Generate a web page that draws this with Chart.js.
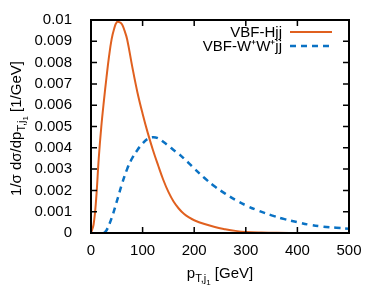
<!DOCTYPE html>
<html><head><meta charset="utf-8">
<script src="https://cdn.jsdelivr.net/npm/chart.js@4/dist/chart.umd.min.js"></script>
<style>html,body{margin:0;padding:0;background:#fff}#wrap{width:374px;height:299px}</style>
</head><body><div id="wrap"><canvas id="c" width="374" height="299"></canvas></div>
<script>
const hX = [0,5,10,15,20,25,30,35,40,45,50,55,60,65,70,80,90,100,110,120,130,140,150,160,170,180,190,200,220,240,260,280,300,330,360,410];
const hY = [0,0.0004,0.0016,0.0035,0.0050,0.0062,0.0073,0.0083,0.0091,0.0096,0.0099,0.0099,0.0098,0.0095,0.0091,0.0078,0.0066,0.0056,0.0047,0.0039,0.00318,0.0025,0.00193,0.00148,0.00115,0.0009,0.00073,0.0006,0.00042,0.00028,0.00018,0.0001,0.00005,0.00002,0.000006,0];
const wX = [25,30,40,50,60,70,80,90,100,110,120,130,140,150,160,170,180,190,200,220,240,260,280,300,325,350,375,400,425,450,475,500];
const wY = [0,0.00012,0.0007,0.00148,0.0023,0.0030,0.00352,0.0039,0.0042,0.00442,0.0045,0.00445,0.00428,0.0041,0.0039,0.00372,0.0035,0.00327,0.00303,0.00258,0.00218,0.00185,0.00155,0.0013,0.00104,0.00083,0.00065,0.00051,0.00038,0.0003,0.00025,0.0002];
const xTicks = [0,100,200,300,400,500];
const yTicks = [0,0.001,0.002,0.003,0.004,0.005,0.006,0.007,0.008,0.009,0.01];
const seriesNames = ['VBF-Hjj','VBF-W\u207AW\u207Ajj'];
const FONT = '"Liberation Sans", Arial, Helvetica, sans-serif';
const FS = 15;

function pts(xs, ys){ return xs.map((x,i)=>({x:x,y:ys[i]})); }

const frame = {
  id:'frame',
  afterDraw(chart){
    const ctx = chart.ctx, a = chart.chartArea;
    const xs = chart.scales.x, ys = chart.scales.y;
    ctx.save();
    ctx.strokeStyle = '#000';
    ctx.lineWidth = 2;
    ctx.strokeRect(a.left, a.top, a.right-a.left, a.bottom-a.top);
    ctx.lineWidth = 1.5;
    ctx.beginPath();
    xTicks.forEach(v=>{ const p = xs.getPixelForValue(v);
      ctx.moveTo(p,a.bottom); ctx.lineTo(p,a.bottom-6);
      ctx.moveTo(p,a.top); ctx.lineTo(p,a.top+6); });
    yTicks.forEach(v=>{ const p = ys.getPixelForValue(v);
      ctx.moveTo(a.left,p); ctx.lineTo(a.left+6,p);
      ctx.moveTo(a.right,p); ctx.lineTo(a.right-6,p); });
    ctx.stroke();
    ctx.fillStyle = '#000';
    ctx.textBaseline = 'alphabetic';
    const big = FS+'px '+FONT, sm = Math.round(FS*0.72)+'px '+FONT, sm2 = Math.round(FS*0.55)+'px '+FONT;
    function drawParts(parts, x, y){
      let w = 0;
      parts.forEach(p=>{ ctx.font = p.f; w += ctx.measureText(p.t).width; });
      let cx = x - w/2;
      ctx.textAlign = 'left';
      parts.forEach(p=>{ ctx.font = p.f; ctx.fillText(p.t, cx, y + (p.dy||0)); cx += ctx.measureText(p.t).width; });
    }
    drawParts([{t:'p',f:big},{t:'T,j',f:sm,dy:4},{t:'1',f:sm2,dy:7},{t:' [GeV]',f:big}], (a.left+a.right)/2, 278);
    ctx.save();
    ctx.translate(21, (a.top+a.bottom)/2+2);
    ctx.rotate(-Math.PI/2);
    drawParts([{t:'1/\u03C3 d\u03C3/dp',f:big},{t:'T,j',f:sm,dy:4},{t:'1',f:sm2,dy:7},{t:' [1/GeV]',f:big}], 0, 0);
    ctx.restore();
    ctx.font = big;
    ctx.textAlign = 'right';
    ctx.textBaseline = 'middle';
    chart.data.datasets.forEach((ds,i)=>{
      const y = 32 + i*14;
      ctx.fillStyle = '#000';
      ctx.fillText(ds.label, 282, y+1);
      ctx.strokeStyle = ds.borderColor;
      ctx.lineWidth = ds.borderWidth;
      ctx.setLineDash(ds.borderDash||[]);
      ctx.beginPath(); ctx.moveTo(290,y); ctx.lineTo(332,y); ctx.stroke();
      ctx.setLineDash([]);
    });
    ctx.restore();
  }
};

new Chart(document.getElementById('c'), {
  type:'line',
  data:{ datasets:[
    {label:seriesNames[0], data:pts(hX,hY), borderColor:'#e0601f', borderWidth:2, pointRadius:0, tension:0.4, fill:false},
    {label:seriesNames[1], data:pts(wX,wY), borderColor:'#0a72c4', borderWidth:2.5, borderDash:[6,5], pointRadius:0, tension:0.4, fill:false}
  ]},
  options:{
    responsive:false, animation:false, devicePixelRatio:1,
    layout:{padding:{left:0,right:25,top:17,bottom:0}},
    plugins:{legend:{display:false}, tooltip:{enabled:false}},
    scales:{
      x:{type:'linear', min:0, max:500,
        afterFit(s){ s.height = 66; },
        afterBuildTicks(s){ s.ticks = xTicks.map(v=>({value:v})); },
        grid:{display:false}, border:{display:false},
        ticks:{color:'#000', font:{family:FONT,size:FS}, padding:1, maxRotation:0, callback:v=>String(v)}},
      y:{type:'linear', min:0, max:0.01,
        afterFit(s){ s.width = 91; },
        afterBuildTicks(s){ s.ticks = yTicks.map(v=>({value:v})); },
        grid:{display:false}, border:{display:false},
        ticks:{color:'#000', font:{family:FONT,size:FS}, padding:11, callback:v=>String(parseFloat(v.toFixed(3)))}}
    }
  },
  plugins:[frame]
});
</script></body></html>
